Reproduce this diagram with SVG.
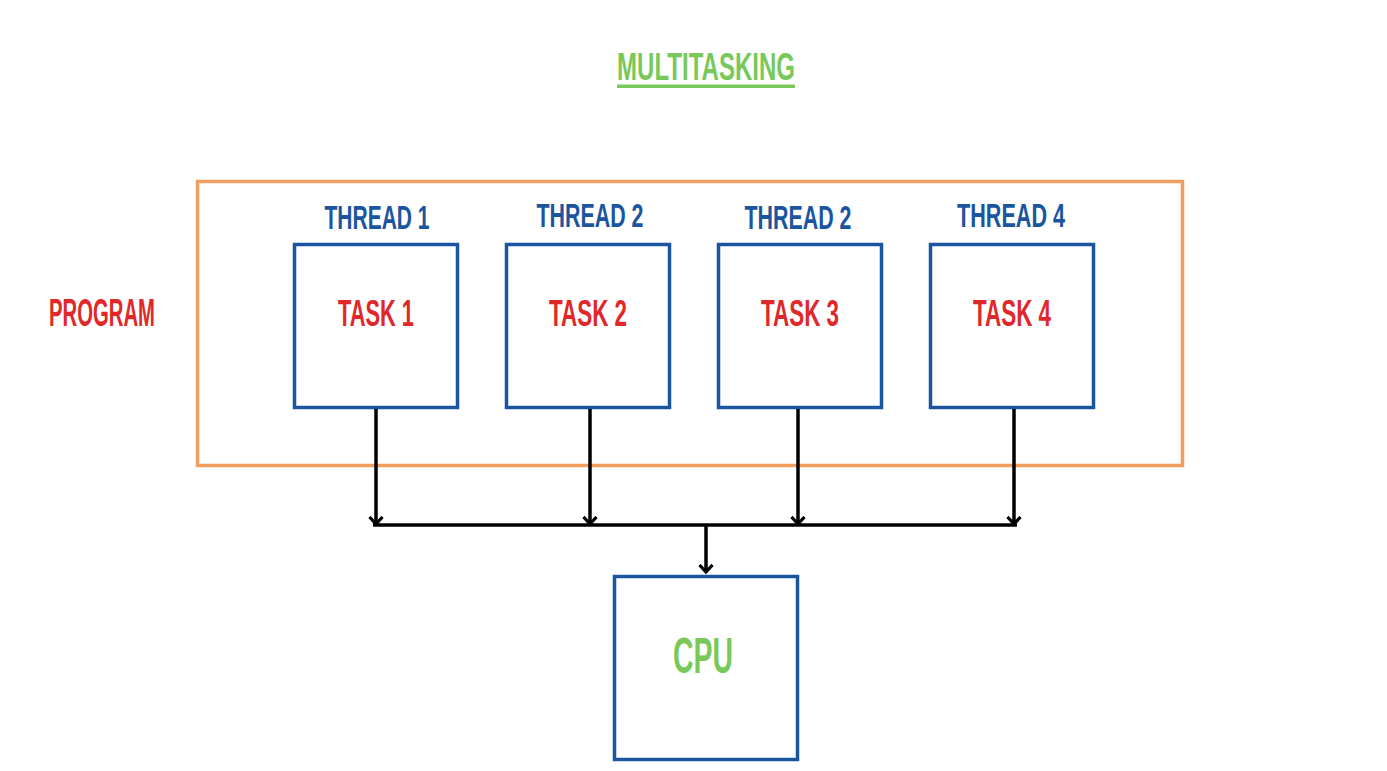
<svg xmlns="http://www.w3.org/2000/svg" width="1387" height="771" viewBox="0 0 1387 771">
<style>
.t{font-family:"Liberation Sans Narrow","Liberation Sans",Arial,sans-serif;font-weight:bold;text-anchor:middle}
.box{fill:#fff;stroke:#1b55a0;stroke-width:3.5}
.thr{fill:#1b55a0;font-size:33px}
.task{fill:#e0282a;font-size:36px}
.grn{fill:#78c95a}
.con{stroke:#000;stroke-width:3.5;fill:none}
</style>
<defs>
<marker id="ah" viewBox="0 0 10 16" refX="8.5" refY="8" markerWidth="10" markerHeight="16" markerUnits="userSpaceOnUse" orient="auto">
<path d="M1.5,1.5 L8.5,8 L1.5,14.5" fill="none" stroke="#000" stroke-width="3.2"/>
</marker>
</defs>
<rect width="1387" height="771" fill="#fff"/>
<g id="title">
<text class="t grn" x="706" y="80" font-size="39" textLength="178" lengthAdjust="spacingAndGlyphs">MULTITASKING</text>
<rect x="617" y="84.5" width="178" height="3.5" fill="#78c95a"/>
</g>
<g id="program">
<rect x="197.5" y="181.5" width="985" height="284" fill="none" stroke="#ef9f5f" stroke-width="3.5"/>
<text class="t" x="102" y="326" font-size="39" fill="#e0282a" textLength="106" lengthAdjust="spacingAndGlyphs">PROGRAM</text>
</g>
<g id="thread1">
<text class="t thr" x="377" y="229" textLength="105" lengthAdjust="spacingAndGlyphs">THREAD 1</text>
<rect class="box" x="294.5" y="244.5" width="163" height="163"/>
<text class="t task" x="376" y="326" textLength="76" lengthAdjust="spacingAndGlyphs">TASK 1</text>
</g>
<g id="thread2">
<text class="t thr" x="590" y="227" textLength="107" lengthAdjust="spacingAndGlyphs">THREAD 2</text>
<rect class="box" x="506.5" y="244.5" width="163" height="163"/>
<text class="t task" x="588" y="326" textLength="78" lengthAdjust="spacingAndGlyphs">TASK 2</text>
</g>
<g id="thread3">
<text class="t thr" x="798" y="229" textLength="107" lengthAdjust="spacingAndGlyphs">THREAD 2</text>
<rect class="box" x="718.5" y="244.5" width="163" height="163"/>
<text class="t task" x="800" y="326" textLength="78" lengthAdjust="spacingAndGlyphs">TASK 3</text>
</g>
<g id="thread4">
<text class="t thr" x="1011" y="227" textLength="108" lengthAdjust="spacingAndGlyphs">THREAD 4</text>
<rect class="box" x="930.5" y="244.5" width="163" height="163"/>
<text class="t task" x="1012" y="326" textLength="78" lengthAdjust="spacingAndGlyphs">TASK 4</text>
</g>
<g id="cpu">
<rect class="box" x="614.5" y="576.5" width="183" height="183"/>
<text class="t grn" x="703" y="673" font-size="50" textLength="60" lengthAdjust="spacingAndGlyphs">CPU</text>
</g>
<g id="connectors">
<line class="con" x1="376" y1="409" x2="376" y2="524" marker-end="url(#ah)"/>
<line class="con" x1="590" y1="409" x2="590" y2="524" marker-end="url(#ah)"/>
<line class="con" x1="798" y1="409" x2="798" y2="524" marker-end="url(#ah)"/>
<line class="con" x1="1014" y1="409" x2="1014" y2="524" marker-end="url(#ah)"/>
<line class="con" x1="373" y1="525" x2="1017" y2="525"/>
<line class="con" x1="706" y1="525" x2="706" y2="572" marker-end="url(#ah)"/>
</g>
</svg>
